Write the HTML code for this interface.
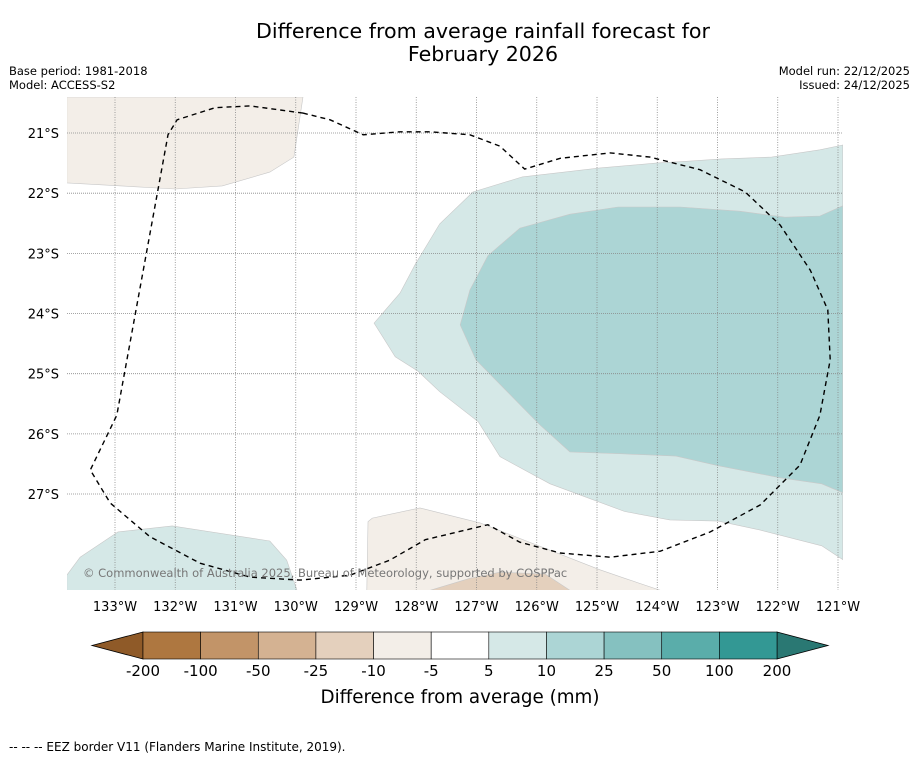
<!DOCTYPE html>
<html><head><meta charset="utf-8"><style>
html,body{margin:0;padding:0;background:#fff;}
body{width:919px;height:758px;overflow:hidden;position:relative;font-family:"DejaVu Sans","Liberation Sans",sans-serif;}
</style></head><body>
<svg id="chart" width="919" height="758" xmlns="http://www.w3.org/2000/svg" font-family="DejaVu Sans, Liberation Sans, sans-serif">
<text x="483" y="38" font-size="20.6" text-anchor="middle" fill="#000">Difference from average rainfall forecast for</text>
<text x="483" y="61" font-size="20.6" text-anchor="middle" fill="#000">February 2026</text>
<text x="9" y="75" font-size="11.5">Base period: 1981-2018</text>
<text x="9" y="89" font-size="11.5">Model: ACCESS-S2</text>
<text x="910" y="75" font-size="11.5" text-anchor="end">Model run: 22/12/2025</text>
<text x="910" y="89" font-size="11.5" text-anchor="end">Issued: 24/12/2025</text>
<defs><clipPath id="mapclip"><rect x="67" y="97" width="776" height="493"/></clipPath></defs>
<g id="fills" clip-path="url(#mapclip)"></g>
<g id="grid" clip-path="url(#mapclip)"></g>
<g id="eez" clip-path="url(#mapclip)"></g>
<text x="83" y="577" font-size="11.5" fill="#777">© Commonwealth of Australia 2025, Bureau of Meteorology, supported by COSPPac</text>
<g id="axes"></g>
<g id="colorbar"></g>
<text x="460" y="703" font-size="18.3" text-anchor="middle">Difference from average (mm)</text>
<text x="9" y="751" font-size="12">--  --  -- EEZ border V11 (Flanders Marine Institute, 2019).</text>
</svg>
<script>
// map extent (degrees W / S)
const lonTicks = [133,132,131,130,129,128,127,126,125,124,123,122,121];
const latTicks = [21,22,23,24,25,26,27];
// colour levels
const levels = ["-200","-100","-50","-25","-10","-5","5","10","25","50","100","200"];
const levelColors = ["#ae7740","#c29468","#d4b292","#e4d0bd","#f3eee8","#ffffff","#d5e8e7","#acd5d5","#85c1c0","#5aadaa","#339894"];
const extendLow = "#8f5a28", extendHigh = "#2a7873";
// contour regions [lonW, latS]
const tanNorth = [[133.8,20.4],[129.88,20.4],[130.03,21.4],[130.43,21.65],[131.22,21.88],[132.0,21.93],[133.8,21.83]];
const tealOuter = [[120.92,21.2],[121.3,21.28],[122.1,21.4],[122.93,21.43],[123.52,21.47],[124.02,21.5],[124.95,21.58],[126.24,21.73],[127.06,21.98],[127.61,22.51],[128.02,23.19],[128.27,23.66],[128.7,24.16],[128.35,24.72],[127.97,24.96],[127.61,25.3],[126.97,25.8],[126.61,26.38],[125.78,26.83],[124.54,27.29],[123.79,27.43],[122.99,27.45],[122.29,27.6],[121.27,27.86],[120.92,28.09]];
const tealInner = [[120.92,22.21],[121.3,22.38],[121.88,22.4],[122.63,22.3],[123.62,22.23],[124.65,22.23],[125.45,22.35],[126.28,22.58],[126.81,23.04],[127.11,23.61],[127.27,24.19],[127.01,24.77],[126.44,25.35],[125.95,25.85],[125.45,26.3],[124.62,26.33],[123.69,26.37],[122.99,26.53],[121.96,26.73],[121.27,26.83],[120.92,26.98]];
const tealSouthWest = [[133.8,28.35],[133.58,28.05],[132.95,27.63],[132.05,27.53],[130.43,27.78],[130.15,28.1],[129.98,28.6],[133.8,28.6]];
const tanSouth = [[128.82,28.6],[128.8,27.46],[128.73,27.4],[127.94,27.23],[126.94,27.48],[124.95,28.26],[124.54,28.4],[123.95,28.6]];
const tanSouthDark = [[127.77,28.6],[127.11,28.4],[126.61,28.3],[125.86,28.33],[125.45,28.6]];
const eezBorder = [[129.88,20.67],[130.76,20.55],[131.34,20.58],[131.97,20.78],[132.12,21.03],[132.97,25.69],[133.41,26.6],[133.08,27.15],[132.42,27.71],[131.59,28.15],[130.76,28.38],[129.93,28.43],[129.1,28.35],[128.44,28.1],[127.85,27.76],[126.81,27.51],[126.28,27.8],[125.61,27.98],[124.78,28.05],[123.95,27.95],[123.12,27.63],[122.29,27.18],[121.63,26.52],[121.3,25.69],[121.13,24.77],[121.17,23.94],[121.46,23.28],[121.96,22.53],[122.54,21.98],[123.29,21.61],[124.12,21.4],[124.78,21.33],[125.61,21.42],[126.2,21.6],[126.61,21.22],[127.11,21.03],[127.77,20.98],[128.27,20.98],[128.88,21.03],[129.43,20.78],[129.88,20.67]];

const NS="http://www.w3.org/2000/svg";
const X = lon => 115 + (133 - lon) * 60.25;
const Y = lat => 133 + (lat - 21) * 60.17;
function mk(tag, attrs, parent){const e=document.createElementNS(NS,tag);for(const k in attrs)e.setAttribute(k,attrs[k]);parent.appendChild(e);return e;}
const pts = arr => arr.map(p=>X(p[0]).toFixed(1)+","+Y(p[1]).toFixed(1)).join(" ");

const fills=document.getElementById('fills');
const regions=[[tanNorth,levelColors[4],'tan-region-north'],[tealOuter,levelColors[6],'teal-region-5-10'],[tealInner,levelColors[7],'teal-region-10-25'],[tealSouthWest,levelColors[6],'teal-region-southwest'],[tanSouth,levelColors[4],'tan-region-south'],[tanSouthDark,levelColors[3],'tan-region-south-dark']];
regions.forEach(r=>{
  const p=mk('polygon',{points:pts(r[0]),fill:r[1],stroke:'#c8c8c8','stroke-width':0.6},fills);
  
  
});

const grid=document.getElementById('grid');
lonTicks.forEach(l=>{
  const ln=mk('line',{x1:X(l),x2:X(l),y1:97,y2:590,stroke:'#888','stroke-width':0.8,'stroke-dasharray':'1,1.5'},grid);
  
  
});
latTicks.forEach(l=>{
  const ln=mk('line',{x1:67,x2:843,y1:Y(l),y2:Y(l),stroke:'#888','stroke-width':0.8,'stroke-dasharray':'1,1'},grid);
  
  
});

const eez=document.getElementById('eez');
const ez=mk('polyline',{points:pts(eezBorder),fill:'none',stroke:'#000','stroke-width':1.4,'stroke-dasharray':'5,4'},eez);



const axes=document.getElementById('axes');
lonTicks.forEach(l=>{
  const t=mk('text',{x:X(l),y:611,'font-size':13,'text-anchor':'middle'},axes);
  t.textContent=l+"°W";
  
  
});
latTicks.forEach(l=>{
  const t=mk('text',{x:59,y:Y(l)+5,'font-size':13,'text-anchor':'end'},axes);
  t.textContent=l+"°S";
  
  
});

const cb=document.getElementById('colorbar');
const cbL=143, cbR=777, cbT=632, cbB=659, n=levelColors.length, w=(cbR-cbL)/n;
const lo=mk('polygon',{points:`${cbL},${cbT} ${cbL},${cbB} 92,${(cbT+cbB)/2}`,fill:extendLow,stroke:'#000','stroke-width':0.8},cb);


const hi=mk('polygon',{points:`${cbR},${cbT} ${cbR},${cbB} 828,${(cbT+cbB)/2}`,fill:extendHigh,stroke:'#000','stroke-width':0.8},cb);


levelColors.forEach((c,i)=>{
  const r=mk('rect',{x:cbL+i*w,y:cbT,width:w,height:cbB-cbT,fill:c,stroke:'#000','stroke-width':0.6},cb);
  
  
});
levels.forEach((lv,i)=>{
  const t=mk('text',{x:cbL+i*w,y:676,'font-size':15,'text-anchor':'middle'},cb);
  t.textContent=lv;
  
  
});
</script>
</body></html>
